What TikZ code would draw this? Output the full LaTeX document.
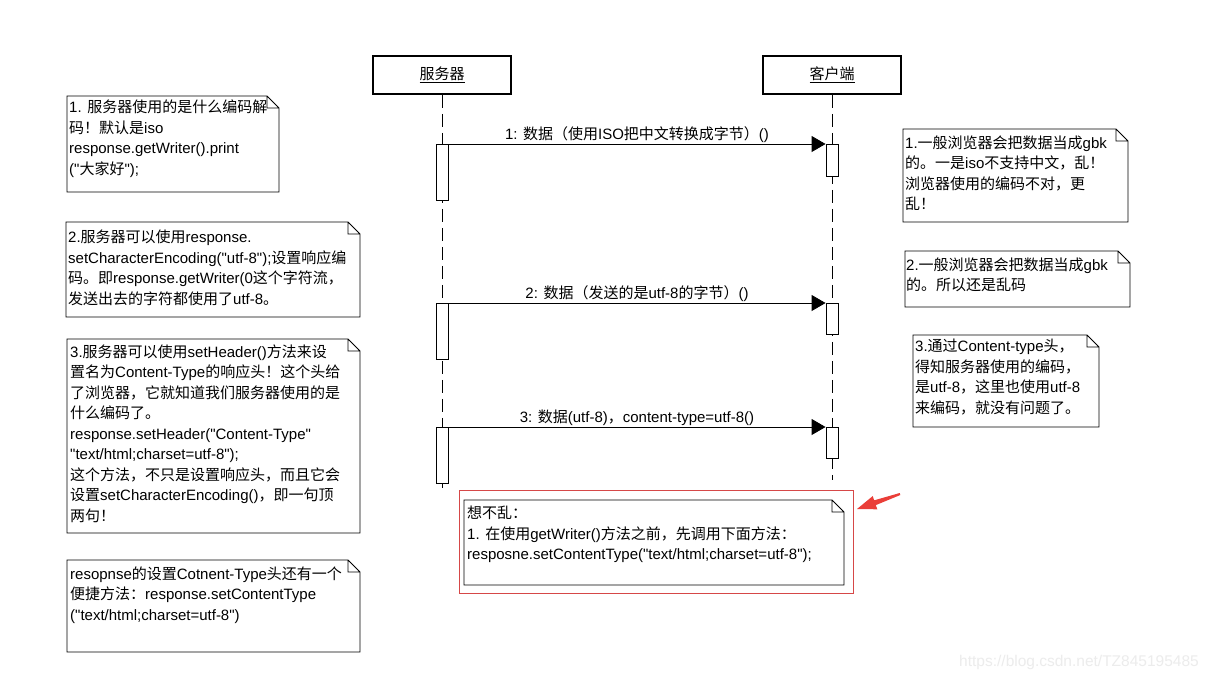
\documentclass[tikz,border=0pt]{standalone}
\usepackage{fontspec}
\setmainfont{Liberation Sans}[Ligatures=TeXOff]
\newfontfamily\cjkfont{Noto Sans CJK SC}
\newfontfamily\latfont{Liberation Sans}[Ligatures=TeXOff]
\XeTeXinterchartokenstate=1
\newXeTeXintercharclass\CJKcls
\makeatletter
\count@="3000 \loop \XeTeXcharclass\count@=\CJKcls \ifnum\count@<"303F \advance\count@ 1 \repeat
\count@="4E00 \loop \XeTeXcharclass\count@=\CJKcls \ifnum\count@<"9FFF \advance\count@ 1 \repeat
\count@="FF00 \loop \XeTeXcharclass\count@=\CJKcls \ifnum\count@<"FFEF \advance\count@ 1 \repeat
\makeatother
\XeTeXinterchartoks 0 \CJKcls = {\cjkfont}
\XeTeXinterchartoks 4095 \CJKcls = {\cjkfont}
\XeTeXinterchartoks \CJKcls 0 = {\latfont}
\XeTeXinterchartoks \CJKcls 4095 = {\latfont}
\usetikzlibrary{arrows.meta}
\definecolor{redmark}{RGB}{214,72,72}
\definecolor{redarrow}{RGB}{234,62,56}
\definecolor{wmgray}{RGB}{236,236,236}
\newcommand\notetext[1]{\begin{tabular}[t]{@{}l@{}}#1\end{tabular}}
\newcommand\drawnote[1]{\draw[noteline] (#1.north west) -- ([xshift=-12pt]#1.north east) -- ([yshift=-12pt]#1.north east) -- (#1.south east) -- (#1.south west) -- cycle ([xshift=-12pt]#1.north east) |- ([yshift=-12pt]#1.north east);}
\tikzset{
  head/.style={draw, line width=1.8pt, minimum width=138pt, minimum height=38pt, inner sep=0pt},
  act/.style={draw, line width=0.9pt, fill=white, minimum width=12pt, inner sep=0pt, anchor=north},
  lifeline/.style={line width=0.9pt, dash pattern=on 13pt off 6pt},
  msg/.style={line width=0.9pt, -{Triangle[length=14pt,width=16pt]}},
  mlabel/.style={midway, anchor=base, inner sep=0pt, yshift=4.5pt},
  notebox/.style={inner sep=0pt, outer sep=0pt, anchor=north west},
  noteline/.style={line width=0.9pt, line join=miter},
  ntext/.style={anchor=base west, inner sep=0pt}
}
\begin{document}
\begin{tikzpicture}[x=1pt, y=-1pt, font=\fontsize{15}{20.5}\selectfont]
\fill[white] (0,0) rectangle (1214,680);
\useasboundingbox (0,0) rectangle (1214,680);

% lifeline heads
\node[head] (srv) at (442,75) {\underline{服务器}};
\node[head] (cli) at (832,75) {\underline{客户端}};
\coordinate (srvend) at (442,488);
\coordinate (cliend) at (832,480);
\draw[lifeline] (srv.south) -- (srvend);
\draw[lifeline] (cli.south) -- (cliend);

% activations
\node[act, minimum height=56pt] (sa1) at (442,144) {};
\node[act, minimum height=32pt] (ca1) at (832,144) {};
\node[act, minimum height=56pt] (sa2) at (442,303) {};
\node[act, minimum height=31pt] (ca2) at (832,303) {};
\node[act, minimum height=56pt] (sa3) at (442,427) {};
\node[act, minimum height=31pt] (ca3) at (832,427) {};

% messages
\draw[msg] (sa1.north east) -- (ca1.north west) node[mlabel] (m1) {1: 数据（使用ISO把中文转换成字节）()};
\draw[msg] (sa2.north east) -- (ca2.north west) node[mlabel] (m2) {2: 数据（发送的是utf-8的字节）()};
\draw[msg] (sa3.north east) -- (ca3.north west) node[mlabel] (m3) {3: 数据(utf-8)，content-type=utf-8()};

% left notes
\node[notebox, minimum width=212pt, minimum height=96pt] (n1) at (67,96) {};
\drawnote{n1}
\node[ntext] (t1) at (69,112.5) {\notetext{1. 服务器使用的是什么编码解\\码！默认是iso\\response.getWriter().print\\("大家好");}};

\node[notebox, minimum width=294pt, minimum height=95pt] (n2) at (66,222) {};
\drawnote{n2}
\node[ntext] (t2) at (68,242.5) {\notetext{2.服务器可以使用response.\\setCharacterEncoding("utf-8");设置响应编\\码。即response.getWriter(0这个字符流，\\发送出去的字符都使用了utf-8。}};

\node[notebox, minimum width=293pt, minimum height=194pt] (n3) at (67,339) {};
\drawnote{n3}
\node[ntext] (t3) at (70,357) {\notetext{3.服务器可以使用setHeader()方法来设\\置名为Content-Type的响应头！这个头给\\了浏览器，它就知道我们服务器使用的是\\什么编码了。\\response.setHeader("Content-Type"\\"text/html;charset=utf-8");\\这个方法，不只是设置响应头，而且它会\\设置setCharacterEncoding()，即一句顶\\两句！}};

\node[notebox, minimum width=293pt, minimum height=92pt] (n4) at (67,560) {};
\drawnote{n4}
\node[ntext] (t4) at (70,579) {\notetext{resopnse的设置Cotnent-Type头还有一个\\便捷方法：response.setContentType\\("text/html;charset=utf-8")}};

% right notes
\node[notebox, minimum width=225pt, minimum height=93pt] (r1) at (903,129) {};
\drawnote{r1}
\node[ntext] (u1) at (905,148) {\notetext{1.一般浏览器会把数据当成gbk\\的。一是iso不支持中文，乱！\\浏览器使用的编码不对，更\\乱！}};

\node[notebox, minimum width=225pt, minimum height=56pt] (r2) at (905,251) {};
\drawnote{r2}
\node[ntext] (u2) at (906,270) {\notetext{2.一般浏览器会把数据当成gbk\\的。所以还是乱码}};

\node[notebox, minimum width=186pt, minimum height=92pt] (r3) at (913,335) {};
\drawnote{r3}
\node[ntext] (u3) at (915,351.5) {\notetext{3.通过Content-type头，\\得知服务器使用的编码，\\是utf-8，这里也使用utf-8\\来编码，就没有问题了。}};

% bottom note with red frame
\node[notebox, draw=redmark, line width=0.9pt, minimum width=394pt, minimum height=103pt] (redbox) at (459,490) {};
\node[notebox, minimum width=380pt, minimum height=85pt] (nb) at (464,500) {};
\drawnote{nb}
\node[ntext] (tb) at (467,518.5) {\notetext{想不乱：\\1. 在使用getWriter()方法之前，先调用下面方法：\\resposne.setContentType("text/html;charset=utf-8");}};

% red annotation arrow
\fill[redarrow] (857,509) -- (877.3,509.3) -- (875.8,505.1) -- (900.3,495.0) -- (899.7,493.0) -- (874.2,500.3) -- (872.7,496.1) -- cycle;

% watermark
\node[text=wmgray, font=\fontsize{15.5}{18}\selectfont, anchor=center, inner sep=0pt] (wm) at (1079,662) {https://blog.csdn.net/TZ845195485};
\end{tikzpicture}
\end{document}
